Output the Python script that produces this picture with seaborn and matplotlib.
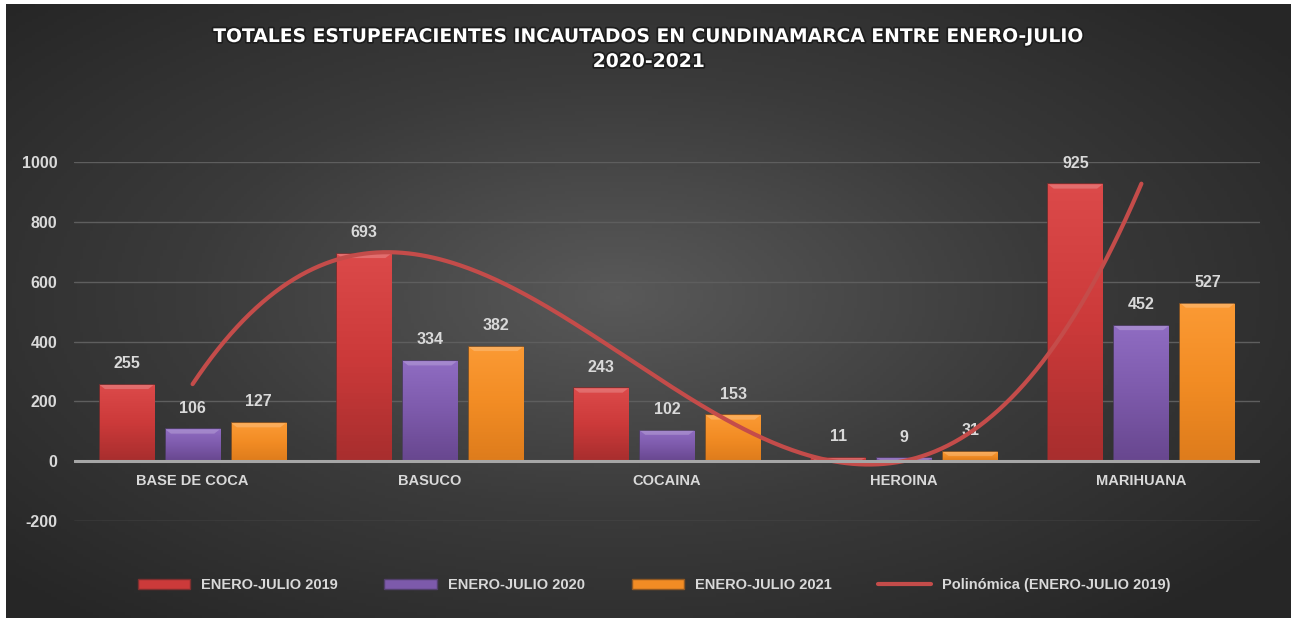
import numpy as np
import pandas as pd
import seaborn as sns
import matplotlib.pyplot as plt
import matplotlib.patheffects as pe
from matplotlib.patches import Patch, Polygon
from matplotlib.lines import Line2D

categories = ["BASE DE COCA", "BASUCO", "COCAINA", "HEROINA", "MARIHUANA"]
series = ["ENERO-JULIO 2019", "ENERO-JULIO 2020", "ENERO-JULIO 2021"]
vals_2019 = [255, 693, 243, 11, 925]
vals_2020 = [106, 334, 102, 9, 452]
vals_2021 = [127, 382, 153, 31, 527]
y_ticks = [-200, 0, 200, 400, 600, 800, 1000]
title = "TOTALES ESTUPEFACIENTES INCAUTADOS EN CUNDINAMARCA ENTRE ENERO-JULIO\n2020-2021"
trend_label = "Polinómica (ENERO-JULIO 2019)"

colors = ["#cc3a3a", "#7d5aab", "#f28c24"]
light = ["#dc4a4a", "#8f6cc2", "#fb9a34"]
dark = ["#a82e2e", "#68478f", "#de7c1c"]
trend_color = "#c44c4a"
txt = "#d9d9d9"

df = pd.DataFrame({
    "cat": categories * 3,
    "serie": [s for s in series for _ in categories],
    "val": vals_2019 + vals_2020 + vals_2021,
})

sns.set_theme(style="dark")
plt.rcParams['font.family'] = ['Liberation Sans', 'DejaVu Sans']

W, H = 1297, 618
fig = plt.figure(figsize=(W / 100, H / 100), dpi=100, facecolor="white")

# radial gradient background
bg = fig.add_axes([6 / W, 0, (1291 - 6) / W, (H - 4) / H], zorder=-10)
gx, gy = np.meshgrid(np.linspace(-1, 1, 400), np.linspace(-1, 1, 200))
r = np.sqrt(((gx + 0.05) * 0.95) ** 2 + ((gy + 0.05) * 0.9) ** 2)
bg.imshow(np.clip(r, 0, 1.25), cmap=sns.blend_palette(["#595959", "#3b3b3b", "#262626"], as_cmap=True),
          aspect="auto", extent=[0, 1, 0, 1], vmin=0, vmax=1.25)
bg.axis("off")

ax = fig.add_axes([74 / W, 1 - 521 / H, (1260 - 74) / W, (521 - 162) / H])
ax.set_facecolor("none")

sns.barplot(data=df, x="cat", y="val", hue="serie", palette=colors, saturation=1,
            width=0.835, gap=0.18, ax=ax, legend=False, zorder=3,
            edgecolor="none")

ax.set_ylim(-200, 1000)
ax.set_xlim(-0.5, len(categories) - 0.5)

# vertical gradient fill + bevel on each bar
grad = np.linspace(1, 0, 64).reshape(-1, 1)
for cont, c, lc, dc in zip(ax.containers, colors, light, dark):
    cmap = sns.blend_palette([dc, c, lc], as_cmap=True)
    for p in cont.patches:
        x0, y0 = p.get_x(), p.get_y()
        w, h = p.get_width(), p.get_height()
        im = ax.imshow(grad, cmap=cmap, aspect="auto", extent=[x0, x0 + w, y0, y0 + h],
                       zorder=3.5, vmin=0, vmax=1)
        im.set_clip_path(p)
        bev = min(h, 14)
        dx = w * 0.1
        top = Polygon([[x0, y0 + h], [x0 + w, y0 + h], [x0 + w - dx, y0 + h - bev],
                       [x0 + dx, y0 + h - bev]], closed=True, facecolor="white", edgecolor="none",
                      alpha=0.2, zorder=4)
        ax.add_patch(top)
        p.set_edgecolor(sns.dark_palette(c, 3)[1])
        p.set_linewidth(1.2)
    ax.bar_label(cont, padding=10, color=txt, fontsize=11.5, fontweight="bold")

# polynomial trendline (order 3) of the 2019 series, as Excel draws it
xs = np.arange(len(categories))
coef = np.polyfit(xs, vals_2019, 3)
xx = np.linspace(0, len(categories) - 1, 300)
ax.plot(xx, np.polyval(coef, xx), color=trend_color, lw=3, zorder=5, solid_capstyle="round")

ax.set_ylim(-200, 1000)
ax.set_xlim(-0.5, len(categories) - 0.5)
ax.set_yticks(y_ticks)
ax.set_yticklabels([str(t) for t in y_ticks], color=txt, fontsize=11.5, fontweight="bold")
ax.tick_params(axis="y", length=0, pad=12)
ax.set_xticks([])
ax.set_xlabel("")
ax.set_ylabel("")
ax.grid(axis="y", color="#5e5e5e", lw=1, zorder=0)
ax.grid(axis="x", visible=False)
ax.axhline(0, color="#a6a6a6", lw=2.2, zorder=6)
for s in ax.spines.values():
    s.set_visible(False)

for i, c in enumerate(categories):
    ax.annotate(c, xy=(i, 0), xytext=(0, -14.5), textcoords="offset points",
                ha="center", va="center", color=txt, fontsize=10.5, fontweight="bold")

fig.text(0.5, 1 - 49 / H, title, ha="center", va="center", color="white", fontsize=13.5,
         fontweight="bold", family="DejaVu Sans", linespacing=1.4,
         path_effects=[pe.withStroke(linewidth=2.5, foreground="#1e1e1e")])

handles = [Patch(facecolor=c, edgecolor=sns.dark_palette(c, 3)[1]) for c in colors]
handles.append(Line2D([0], [0], color=trend_color, lw=3))
leg = fig.legend(handles, series + [trend_label], loc="center", bbox_to_anchor=(654 / W, 1 - 585 / H),
                 ncol=4, frameon=False, handlelength=3.6, handleheight=0.7, handletextpad=0.75,
                 columnspacing=3.2, prop={"weight": "bold", "size": 10.5})
for t in leg.get_texts():
    t.set_color(txt)

fig.savefig("out.png", dpi=100, facecolor="white")
